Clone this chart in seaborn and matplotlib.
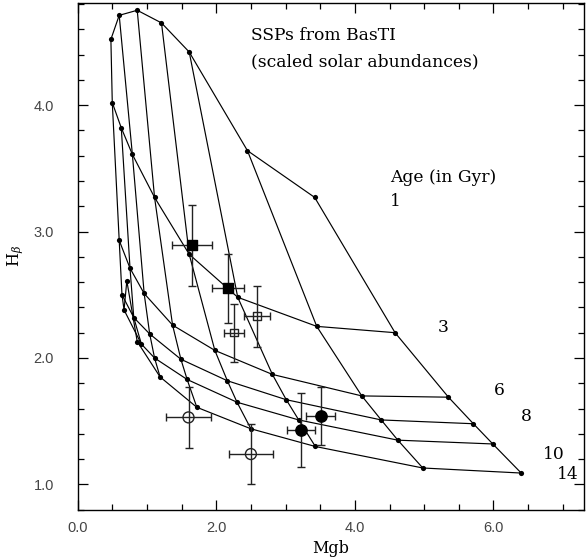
import numpy as np
import pandas as pd
import matplotlib
matplotlib.use("Agg")
import matplotlib.pyplot as plt
import seaborn as sns
from matplotlib.ticker import MultipleLocator, FormatStrFormatter

# ---------------- data ----------------
ages = [1, 3, 6, 8, 10, 14]
metal_ids = [1, 2, 3, 4, 5, 6, 7, 8]          # low -> high metallicity

mgb_age1 = [0.48, np.nan, 0.60, 0.86, 1.21, 1.61, 2.45, 3.42]
hb_age1 = [4.52, np.nan, 4.71, 4.75, 4.65, 4.42, 3.64, 3.27]
mgb_age3 = [0.50, 0.63, 0.79, 1.11, 1.61, 2.31, 3.45, 4.58]
hb_age3 = [4.02, 3.82, 3.61, 3.27, 2.82, 2.48, 2.25, 2.20]
mgb_age6 = [0.60, 0.756, 0.96, 1.37, 1.98, 2.81, 4.10, 5.35]
hb_age6 = [2.93, 2.71, 2.51, 2.26, 2.06, 1.87, 1.70, 1.69]
mgb_age8 = [0.64, 0.81, 1.04, 1.49, 2.16, 3.01, 4.38, 5.71]
hb_age8 = [2.50, 2.32, 2.19, 1.99, 1.82, 1.67, 1.51, 1.48]
mgb_age10 = [0.67, 0.92, 1.11, 1.58, 2.30, 3.19, 4.62, 5.99]
hb_age10 = [2.38, 2.11, 2.00, 1.83, 1.65, 1.51, 1.35, 1.32]
mgb_age14 = [0.71, 0.86, 1.19, 1.72, 2.50, 3.43, 4.98, 6.40]
hb_age14 = [2.61, 2.13, 1.85, 1.61, 1.44, 1.30, 1.13, 1.09]

age_labels = ["1", "3", "6", "8", "10", "14"]
age_label_x = [4.58, 5.28, 6.08, 6.48, 6.87, 7.07]
age_label_y = [3.24, 2.24, 1.74, 1.54, 1.24, 1.08]

# observed galaxies
obs_kind = ["filled_square", "filled_square", "open_square", "open_square",
            "filled_circle", "filled_circle", "open_circle", "open_circle"]
obs_mgb = [1.645, 2.17, 2.59, 2.255, 3.22, 3.51, 1.60, 2.50]
obs_hb = [2.89, 2.55, 2.33, 2.20, 1.43, 1.54, 1.53, 1.24]
obs_mgb_err = [0.29, 0.23, 0.185, 0.15, 0.205, 0.21, 0.32, 0.315]
obs_hb_err = [0.32, 0.27, 0.24, 0.23, 0.29, 0.23, 0.24, 0.235]

# ---------------- build tables ----------------
grid_mgb = [mgb_age1, mgb_age3, mgb_age6, mgb_age8, mgb_age10, mgb_age14]
grid_hb = [hb_age1, hb_age3, hb_age6, hb_age8, hb_age10, hb_age14]
rows = []
for a, xs, ys in zip(ages, grid_mgb, grid_hb):
    for z, x, y in zip(metal_ids, xs, ys):
        rows.append({"age": a, "Z": z, "Mgb": x, "Hb": y})
grid = pd.DataFrame(rows).dropna()
iso = grid.sort_values(["age", "Z"])
met = grid.sort_values(["Z", "age"])

obs = pd.DataFrame({"kind": obs_kind, "Mgb": obs_mgb, "Hb": obs_hb,
                    "xerr": obs_mgb_err, "yerr": obs_hb_err})

# ---------------- style ----------------
sns.set_style("ticks", {"xtick.direction": "in", "ytick.direction": "in"})
plt.rcParams["font.family"] = ["DejaVu Serif"]
plt.rcParams["mathtext.fontset"] = "dejavuserif"
plt.rcParams["text.color"] = "black"
plt.rcParams["axes.labelcolor"] = "black"

fig = plt.figure(figsize=(5.88, 5.60), dpi=100)
ax = fig.add_axes([0.132, 0.0898, 0.8617, 0.9054])

lw = 0.85
sns.lineplot(data=iso, x="Mgb", y="Hb", units="age", estimator=None,
             sort=False, color="black", lw=lw, ax=ax)
sns.lineplot(data=met, x="Mgb", y="Hb", units="Z", estimator=None,
             sort=False, color="black", lw=lw, ax=ax)
sns.scatterplot(data=grid, x="Mgb", y="Hb", color="black", s=14,
                linewidth=0, ax=ax, zorder=3)

ax.errorbar(obs["Mgb"], obs["Hb"], xerr=obs["xerr"], yerr=obs["yerr"],
            fmt="none", ecolor="#222222", elinewidth=1.0, capsize=2.6,
            capthick=1.0, zorder=4)

styles = {
    "filled_square": dict(marker="s", s=42, color="black", edgecolor="black"),
    "open_square": dict(marker="s", s=30, facecolor="none", edgecolor="#222222"),
    "filled_circle": dict(marker="o", s=66, color="black", edgecolor="black"),
    "open_circle": dict(marker="o", s=62, facecolor="none", edgecolor="#222222"),
}
for k, st in styles.items():
    sub = obs[obs["kind"] == k]
    sns.scatterplot(data=sub, x="Mgb", y="Hb", linewidth=1.0, ax=ax,
                    zorder=5, **st)

# ---------------- annotations ----------------
tfs = 12.3
ax.text(2.50, 4.55, "SSPs from BasTI", fontsize=tfs, va="center", ha="left")
ax.text(2.50, 4.34, "(scaled solar abundances)", fontsize=tfs,
        va="center", ha="left")
ax.text(4.515, 3.43, "Age (in Gyr)", fontsize=tfs, va="center", ha="left")
for lab, x, y in zip(age_labels, age_label_x, age_label_y):
    ax.text(x, y, lab, fontsize=tfs, va="center", ha="center")

# ---------------- axes ----------------
ax.set_xlim(0.0, 7.31)
ax.set_ylim(0.80, 4.81)
ax.xaxis.set_major_locator(MultipleLocator(2.0))
ax.xaxis.set_minor_locator(MultipleLocator(0.5))
ax.yaxis.set_major_locator(MultipleLocator(1.0))
ax.yaxis.set_minor_locator(MultipleLocator(0.2))
ax.xaxis.set_major_formatter(FormatStrFormatter("%.1f"))
ax.yaxis.set_major_formatter(FormatStrFormatter("%.1f"))
ax.tick_params(which="both", direction="in", top=True, right=True,
               color="black", width=0.9)
ax.tick_params(which="major", length=7, labelsize=10.5, labelcolor="#444444")
ax.tick_params(axis="x", which="major", pad=8)
ax.tick_params(axis="y", which="major", pad=17)
ax.tick_params(which="minor", length=4)
for lab in ax.get_xticklabels() + ax.get_yticklabels():
    lab.set_family(["Liberation Sans"])
for sp in ax.spines.values():
    sp.set_linewidth(1.0)
    sp.set_color("black")

ax.set_xlabel("Mgb", fontsize=11.5, labelpad=4)
ax.set_ylabel(r"H$_\beta$", fontsize=11.5, labelpad=6)

fig.savefig("out.png", dpi=100)
